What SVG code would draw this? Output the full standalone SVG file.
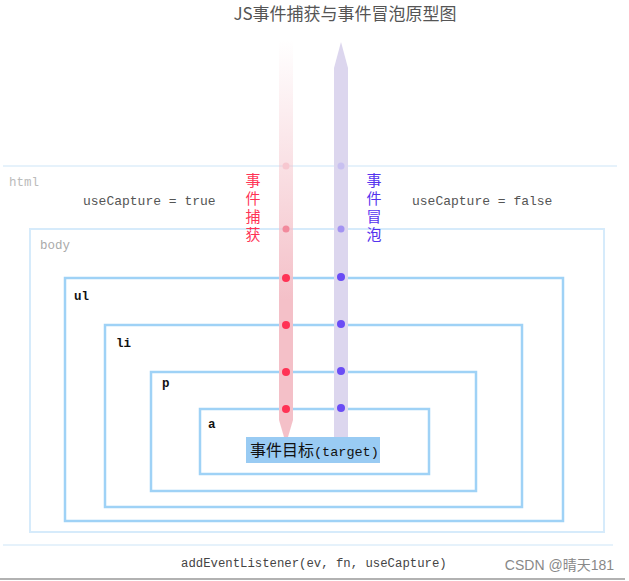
<svg xmlns="http://www.w3.org/2000/svg" width="629" height="581" viewBox="0 0 629 581">
<style>
.box{fill:none;stroke:#9fd2f6;stroke-width:2.5}
.mono{font-family:"Liberation Mono","DejaVu Sans Mono",monospace}
.lbl{font-family:"Liberation Mono",monospace;font-size:12.5px;font-weight:bold;fill:#111}
.cjk{font-family:"Noto Sans CJK SC","Noto Sans",sans-serif}
.vert{writing-mode:vertical-rl;letter-spacing:3px;font-size:15px}
.rd{fill:#ff3355}
.bd{fill:#6a4cf5}
</style>
<defs>
<linearGradient id="capG" x1="0" y1="40" x2="0" y2="300" gradientUnits="userSpaceOnUse">
<stop offset="0" stop-color="#f4c0c8" stop-opacity="0"/>
<stop offset="1" stop-color="#f4c0c8" stop-opacity="1"/>
</linearGradient>
</defs>
<rect width="629" height="581" fill="#fff"/>
<text x="345" y="20" text-anchor="middle" class="cjk" font-size="17" fill="#555">JS事件捕获与事件冒泡原型图</text>

<g id="html">
<line x1="3" y1="166" x2="617" y2="166" stroke="#e6f2fb" stroke-width="2"/>
<line x1="3" y1="545" x2="613" y2="545" stroke="#e6f2fb" stroke-width="2"/>
<text x="9" y="186" class="mono" font-size="12.5" fill="#bbb">html</text>
<text x="83" y="205" class="mono" font-size="13" fill="#555">useCapture = true</text>
<text x="412" y="205" class="mono" font-size="13" fill="#555">useCapture = false</text>
</g>
<g id="body">
<rect x="30" y="229" width="574" height="303" fill="none" stroke="#d6ebfb" stroke-width="2"/>
<text x="40" y="249" class="mono" font-size="12.5" fill="#aaa">body</text>
</g>
<g id="ul">
<rect x="65" y="278" width="498" height="243" class="box"/>
<text x="74" y="300" class="lbl">ul</text>
</g>
<g id="li">
<rect x="105" y="325" width="417" height="182" class="box"/>
<text x="116" y="347" class="lbl">li</text>
</g>
<g id="p">
<rect x="151" y="372" width="325" height="119" class="box"/>
<text x="162" y="387" class="lbl">p</text>
</g>
<g id="a">
<rect x="200" y="409" width="229" height="65" class="box"/>
<text x="208" y="428" class="lbl" font-size="11">a</text>
</g>

<g id="connectors">
<polygon points="279,40 293,40 293,420 288,437 284,437 279,420" fill="url(#capG)"/>
<polygon points="334,437 348,437 348,68 341,42 334,68" fill="#dcd6ee"/>
<circle cx="286" cy="166" r="3.5" fill="#f7c8d0"/>
<circle cx="286" cy="229" r="3.5" fill="#f28a9c"/>
<circle cx="286" cy="278" r="4" class="rd"/>
<circle cx="286" cy="325" r="4" class="rd"/>
<circle cx="286" cy="372" r="4" class="rd"/>
<circle cx="286" cy="409" r="4" class="rd"/>
<circle cx="341" cy="166" r="3.5" fill="#c8c0f0"/>
<circle cx="341" cy="229" r="3.5" fill="#a393f2"/>
<circle cx="341" cy="277" r="4" class="bd"/>
<circle cx="341" cy="324" r="4" class="bd"/>
<circle cx="341" cy="371" r="4" class="bd"/>
<circle cx="341" cy="408" r="4" class="bd"/>
<text x="253" y="173" class="cjk vert" fill="#ff3355">事件捕获</text>
<text x="374" y="173" class="cjk vert" fill="#5533ee">事件冒泡</text>
</g>

<g id="target">
<rect x="246" y="437" width="134" height="26" fill="#99cbf3"/>
<text x="250" y="456" font-size="16" fill="#111"><tspan class="cjk">事件目标</tspan><tspan class="mono" font-size="13.5">(target)</tspan></text>
</g>

<text x="181" y="567" class="mono" font-size="12.3" fill="#444">addEventListener(ev, fn, useCapture)</text>
<text x="614" y="570" text-anchor="end" font-family="Liberation Sans, Noto Sans CJK SC, sans-serif" font-size="14" fill="#888">CSDN @晴天181</text>
<line x1="0" y1="579" x2="625" y2="579" stroke="#999" stroke-width="1.5"/>
</svg>
